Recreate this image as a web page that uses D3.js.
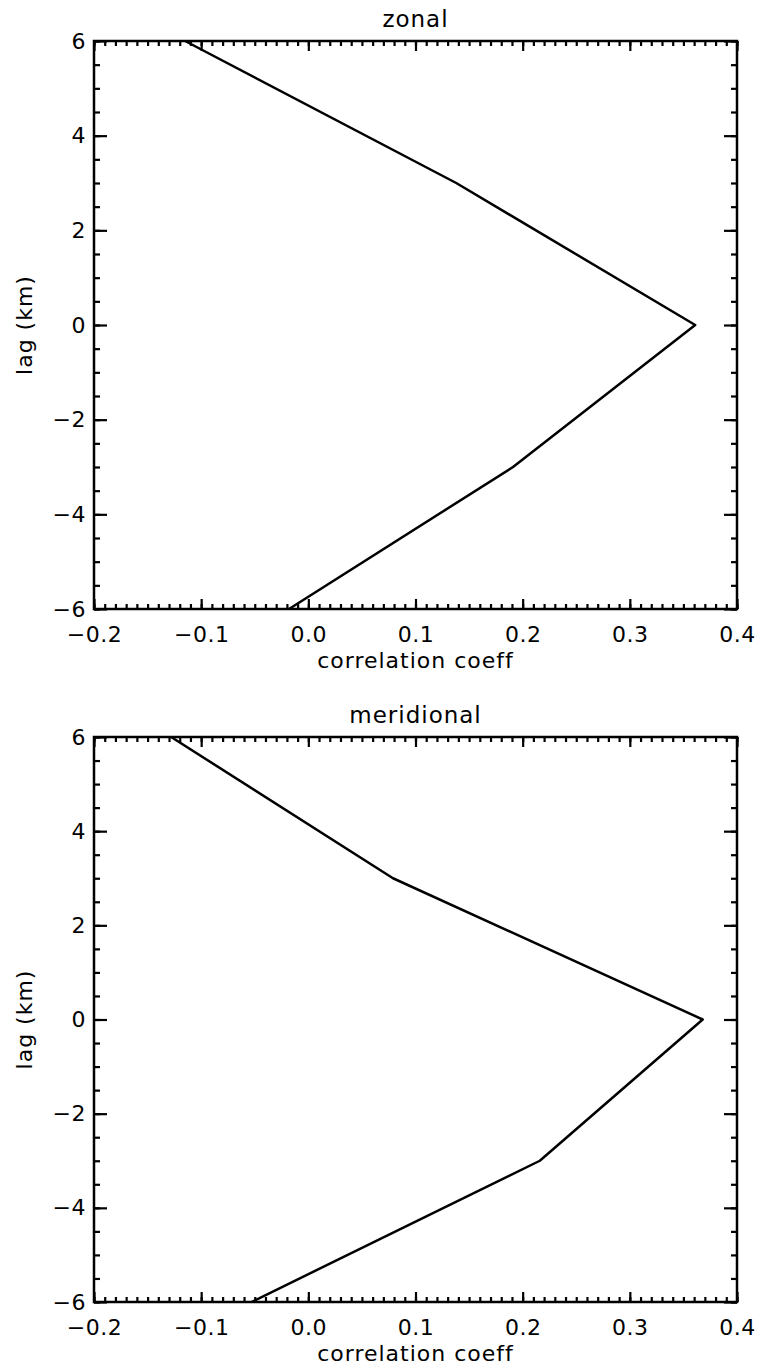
<!DOCTYPE html>
<html>
<head>
<meta charset="utf-8">
<script src="https://cdn.jsdelivr.net/npm/d3@7"></script>
<style>
  body { margin: 0; background: #fff; }
  text { font-family: "DejaVu Sans", sans-serif; fill: #000; }
</style>
</head>
<body>
<svg id="chart" width="759" height="1367"></svg>
<script>
// lag values (km) and correlation coefficients
const lags = [-6, -3, 0, 3, 6];
const zonal = [-0.018, 0.191, 0.361, 0.138, -0.115];
const meridional = [-0.053, 0.216, 0.368, 0.079, -0.128];

const xMajorTicks = [-0.2, -0.1, 0.0, 0.1, 0.2, 0.3, 0.4];
const yMajorTicks = [-6, -4, -2, 0, 2, 4, 6];

const svg = d3.select("#chart");
const left = 94, width = 643;

function drawPanel(top, height, title, values) {
    const g = svg.append("g").attr("transform", "translate(" + left + "," + top + ")");

    const x = d3.scaleLinear().domain([-0.2, 0.4]).range([0, width]);
    const y = d3.scaleLinear().domain([-6, 6]).range([height, 0]);

    // minor ticks: 0.01 on x, 0.5 on y
    const xMinor = d3.range(-0.2, 0.4001, 0.01);
    const yMinor = d3.range(-6, 6.001, 0.5);

    const fmtX = d => d3.format(".1f")(d).replace("-", "\u2212");
    const fmtY = d => d3.format("d")(d).replace("-", "\u2212");

    // bottom axis with labels
    g.append("g")
        .attr("class", "axis")
        .attr("transform", "translate(0," + height + ")")
        .call(d3.axisBottom(x).tickValues(xMajorTicks).tickSize(-10).tickPadding(17).tickFormat(fmtX));
    g.append("g")
        .attr("class", "axis minor")
        .attr("transform", "translate(0," + height + ")")
        .call(d3.axisBottom(x).tickValues(xMinor).tickSize(-5).tickFormat(""));

    // top axis, ticks only
    g.append("g")
        .attr("class", "axis")
        .call(d3.axisTop(x).tickValues(xMajorTicks).tickSize(-10).tickFormat(""));
    g.append("g")
        .attr("class", "axis minor")
        .call(d3.axisTop(x).tickValues(xMinor).tickSize(-5).tickFormat(""));

    // left axis with labels
    g.append("g")
        .attr("class", "axis")
        .call(d3.axisLeft(y).tickValues(yMajorTicks).tickSize(-13).tickPadding(8).tickFormat(fmtY));
    g.append("g")
        .attr("class", "axis minor")
        .call(d3.axisLeft(y).tickValues(yMinor).tickSize(-6).tickFormat(""));

    // right axis, ticks only
    g.append("g")
        .attr("class", "axis")
        .attr("transform", "translate(" + width + ",0)")
        .call(d3.axisRight(y).tickValues(yMajorTicks).tickSize(-13).tickFormat(""));
    g.append("g")
        .attr("class", "axis minor")
        .attr("transform", "translate(" + width + ",0)")
        .call(d3.axisRight(y).tickValues(yMinor).tickSize(-6).tickFormat(""));

    g.selectAll(".axis .domain").remove();
    g.selectAll(".axis line").attr("stroke", "#000").attr("stroke-width", 2.2);
    g.selectAll(".axis text")
        .attr("font-size", 22)
        .attr("letter-spacing", 0.5)
        .attr("font-family", "DejaVu Sans, sans-serif")
        .attr("fill", "#000");

    // frame
    g.append("rect")
        .attr("width", width)
        .attr("height", height)
        .attr("fill", "none")
        .attr("stroke", "#000")
        .attr("stroke-width", 2.5);

    // data line
    const line = d3.line()
        .x(d => x(d.r))
        .y(d => y(d.lag));

    g.append("path")
        .datum(lags.map((lag, i) => ({ lag, r: values[i] })))
        .attr("fill", "none")
        .attr("stroke", "#000")
        .attr("stroke-width", 2.5)
        .attr("stroke-linejoin", "round")
        .attr("d", line);

    // title
    g.append("text")
        .attr("x", width / 2)
        .attr("y", -14)
        .attr("text-anchor", "middle")
        .attr("font-size", 23)
        .attr("letter-spacing", 1)
        .text(title);

    // x label
    g.append("text")
        .attr("x", width / 2)
        .attr("y", height + 59)
        .attr("text-anchor", "middle")
        .attr("font-size", 22)
        .attr("letter-spacing", 1)
        .text("correlation coeff");

    // y label
    g.append("text")
        .attr("transform", "translate(" + (-62) + "," + (height / 2) + ") rotate(-90)")
        .attr("text-anchor", "middle")
        .attr("font-size", 22)
        .attr("letter-spacing", 1)
        .text("lag (km)");
}

drawPanel(41, 568, "zonal", zonal);
drawPanel(737, 565, "meridional", meridional);
</script>
</body>
</html>
